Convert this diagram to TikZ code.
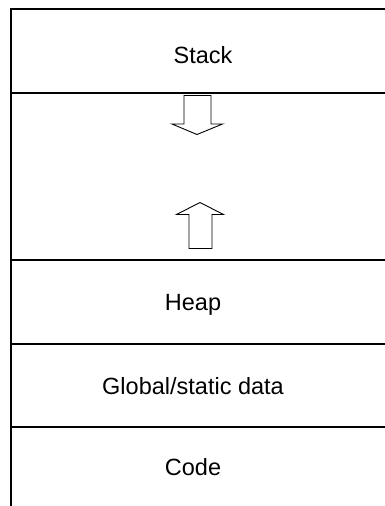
\documentclass[tikz,border=0pt]{standalone}
\usepackage{fontspec}
\setmainfont{Liberation Sans}
\begin{document}
\begin{tikzpicture}[x=1pt,y=-1pt,
  sep/.style={line width=1.6pt},
  bigarrow/.style={line width=0.9pt,line join=miter},
  lbl/.style={inner sep=0pt,anchor=base,font=\fontsize{23.5}{28}\selectfont}]
\useasboundingbox (0,0) rectangle (385,506);
% frame lines
\draw[sep] (385,9) -- (11,9) -- (11,506);
\draw[sep] (11,93) -- (385,93);
\draw[sep] (11,260) -- (385,260);
\draw[sep] (11,344) -- (385,344);
\draw[sep] (11,427) -- (385,427);
% labels
\node[lbl] (stack) at (203,63) {Stack};
\node[lbl] (heap) at (193,310) {Heap};
\node[lbl] (global) at (193,394) {Global/static data};
\node[lbl] (code) at (193,475) {Code};
% growth arrows
\draw[bigarrow] (184,95.5) -- (211,95.5) -- (211,124) -- (222.5,124) -- (197,134.5) -- (172,124) -- (184,124) -- cycle;
\draw[bigarrow] (189,248.5) -- (212,248.5) -- (212,214.5) -- (223.5,214.5) -- (200,202.5) -- (176.5,214.5) -- (189,214.5) -- cycle;
\end{tikzpicture}
\end{document}
